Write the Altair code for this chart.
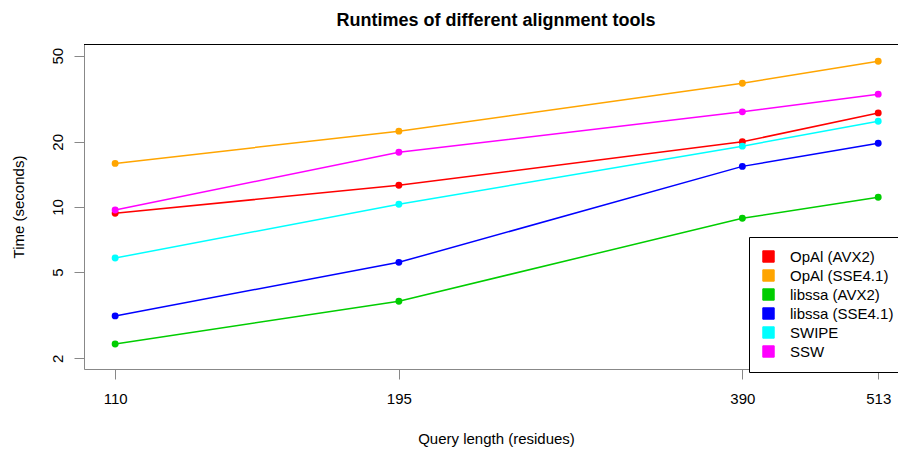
import altair as alt
import pandas as pd

# Query lengths (residues) and runtimes (seconds) per tool
query_lengths = [110, 195, 390, 513]
tools = ["OpAl (AVX2)", "OpAl (SSE4.1)", "libssa (AVX2)", "libssa (SSE4.1)", "SWIPE", "SSW"]
opal_avx2 = [9.35, 12.6, 20.0, 27.2]
opal_sse41 = [15.9, 22.4, 37.3, 47.1]
libssa_avx2 = [2.33, 3.67, 8.87, 11.1]
libssa_sse41 = [3.14, 5.55, 15.4, 19.7]
swipe = [5.81, 10.3, 19.1, 24.9]
ssw = [9.69, 17.9, 27.5, 33.2]
colors = ["#FF0000", "#FFA500", "#00CD00", "#0000FF", "#00FFFF", "#FF00FF"]

series = [opal_avx2, opal_sse41, libssa_avx2, libssa_sse41, swipe, ssw]
rows = []
for i, (tool, values) in enumerate(zip(tools, series)):
    for q, t in zip(query_lengths, values):
        rows.append({"tool": tool, "order": i, "length": q, "time": t})
df = pd.DataFrame(rows)

FONT = "Liberation Sans"
W, H = 814, 325

x = alt.X(
    "length:Q",
    scale=alt.Scale(type="log", domain=[103.3, 533.9], nice=False, zero=False),
    axis=alt.Axis(
        values=query_lengths, format="d", title="Query length (residues)",
        grid=False, tickSize=10, labelPadding=12, labelFontSize=15,
        titleFontSize=15, titleFontWeight="normal",
        titleX=412, titleY=69, titleBaseline="middle",
        labelFlush=False, labelOverlap=False,
    ),
)
y = alt.Y(
    "time:Q",
    scale=alt.Scale(type="log", domain=[1.785, 56.6], nice=False, zero=False),
    axis=alt.Axis(
        values=[2, 5, 10, 20, 50], format="d", title="Time (seconds)",
        grid=False, tickSize=10, labelAngle=-90, labelAlign="center",
        labelBaseline="middle", labelPadding=17, labelFontSize=15,
        titleFontSize=15, titleFontWeight="normal",
        titleX=-66, titleY=162.5, titleAngle=-90, titleBaseline="middle",
        titleAlign="center", labelFlush=False, labelOverlap=False,
    ),
)
color_scale = alt.Scale(domain=tools, range=colors)

# legend key: filled squares outlined in black; the layer's own marks are
# tiny and sit underneath the series points
key = alt.Chart(df).mark_square(
    filled=True, stroke="black", strokeWidth=1, size=1, opacity=1
).encode(
    x=x, y=y,
    fill=alt.Fill(
        "tool:N", scale=color_scale,
        legend=alt.Legend(
            title=None, orient="none", legendX=665, legendY=193,
            symbolType="square", symbolSize=130, symbolStrokeColor="black",
            symbolStrokeWidth=1, symbolOpacity=1, labelFontSize=15,
            labelFont=FONT, labelOffset=14, padding=12, rowPadding=2,
            strokeColor="black", fillColor="white", labelLimit=300,
        ),
    ),
)

lines = alt.Chart(df).mark_line(strokeWidth=1.5).encode(
    x=x, y=y,
    color=alt.Color("tool:N", scale=color_scale, legend=None),
    order="length:Q",
)

points = alt.Chart(df).mark_point(filled=True, size=48, opacity=1).encode(
    x=x, y=y,
    color=alt.Color("tool:N", scale=color_scale, legend=None),
    order="order:Q",
)

# top edge of the plot frame
frame_top = alt.Chart(df).mark_rule(color="black", strokeWidth=1).encode(
    x=alt.value(0), x2=alt.value(W), y=alt.value(0.5)
)

chart = (
    alt.layer(key, lines, points, frame_top)
    .properties(
        width=W, height=H,
        title=alt.TitleParams(
            "Runtimes of different alignment tools", fontSize=18,
            font=FONT, fontWeight="bold", anchor="middle", dx=5, dy=21,
            baseline="alphabetic", offset=21, color="black",
        ),
        autosize=alt.AutoSizeParams(type="none"),
        padding={"left": 84, "top": 44, "right": 0, "bottom": 82},
    )
    .configure_view(stroke=None)
    .configure_axis(
        labelFont=FONT, titleFont=FONT, labelColor="black", titleColor="black",
        domainColor="black", tickColor="black", domainWidth=1, tickWidth=1,
    )
    .configure(background="white")
)

chart.save("out.html", embed_options={"renderer": "svg", "actions": False})
